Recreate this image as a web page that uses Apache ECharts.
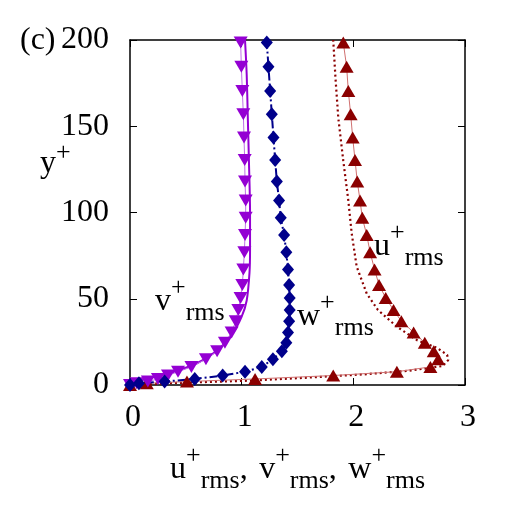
<!DOCTYPE html>
<html>
<head>
<meta charset="utf-8">
<script src="https://cdn.jsdelivr.net/npm/echarts@6/dist/echarts.min.js"></script>
<style>
  html, body { margin: 0; padding: 0; background: #fff; }
  #chart { width: 525px; height: 525px; }
</style>
</head>
<body>
<div id="chart"></div>
<script>
// marker positions (y+) shared by the three LES profiles
const yPlus = [0, 1, 2, 3.5, 5.5, 7.7, 10.5, 15, 19.5, 24.5, 30.5, 37, 43.5, 50.5, 58, 67, 77, 87, 97, 107, 118, 130.5, 143.5, 157, 170.5, 184.5, 198.5];
const uRms = [0, 0.15, 0.51, 1.12, 1.82, 2.39, 2.69, 2.76, 2.72, 2.64, 2.54, 2.43, 2.36, 2.29, 2.23, 2.19, 2.15, 2.12, 2.08, 2.06, 2.035, 2.015, 1.994, 1.976, 1.955, 1.94, 1.91];
const vRms = [0, 0.06, 0.16, 0.25, 0.34, 0.43, 0.55, 0.68, 0.78, 0.85, 0.91, 0.947, 0.97, 0.99, 1.006, 1.015, 1.024, 1.03, 1.036, 1.036, 1.03, 1.027, 1.021, 1.015, 1.006, 0.997, 0.991];
const wRms = [0, 0.08, 0.31, 0.58, 0.83, 1.03, 1.18, 1.28, 1.36, 1.40, 1.415, 1.425, 1.43, 1.43, 1.425, 1.415, 1.40, 1.38, 1.35, 1.335, 1.315, 1.30, 1.285, 1.27, 1.255, 1.24, 1.225];

// reference curves
const uRefY = [0, 1, 2.5, 4.3, 6.2, 8.3, 11, 14.5, 17.5, 21.5, 26, 33.8, 43.5, 53, 68.6, 88, 107, 130, 155, 178, 200];
const uRefX = [0, 0.33, 1.07, 1.6, 2.1, 2.5, 2.8, 2.85, 2.84, 2.75, 2.57, 2.39, 2.22, 2.12, 2.03, 1.985, 1.955, 1.91, 1.865, 1.84, 1.82];
const vRefY = [0, 3, 7, 12.6, 20, 30, 39.6, 49, 65, 78, 100, 130, 155, 180, 200];
const vRefX = [0, 0.12, 0.36, 0.6, 0.78, 0.92, 1.0, 1.045, 1.07, 1.075, 1.075, 1.065, 1.055, 1.045, 1.03];

const xTicks = [0, 1, 2, 3];
const yTicks = [0, 50, 100, 150, 200];

const FONT = "'Liberation Serif', 'Times New Roman', serif";
const RED = "#8b0000", PURPLE = "#9400d3", BLUE = "#00008b";

function pairs(xs, ys) {
  return xs.map((x, i) => [x, ys[i]]);
}

// text with super/subscripts, laid out piece by piece
// part = [text, kind (0 normal, 1 sup, -1 sub), extra gap before]
const ctx = document.createElement("canvas").getContext("2d");
function label(x, base, parts, supUp) {
  let cx = x;
  const out = [];
  parts.forEach(([t, k, gap]) => {
    const fs = k ? 26 : 32;
    const b = base + (k === 1 ? -(supUp || 15) : k === -1 ? 10 : 0);
    cx += gap || 0;
    ctx.font = fs + "px " + FONT;
    out.push({
      type: "text",
      x: cx,
      y: b - 0.3375 * fs,
      style: { text: t, fontSize: fs, fontFamily: FONT, fill: "#000", align: "left", verticalAlign: "middle" },
    });
    cx += ctx.measureText(t).width;
  });
  return out;
}

const chart = echarts.init(document.getElementById("chart"));

const axisCommon = {
  type: "value",
  axisLine: { show: true, onZero: false, lineStyle: { color: "#000", width: 1.5 } },
  axisTick: { show: true, inside: true, length: 7, lineStyle: { color: "#000", width: 1 } },
  splitLine: { show: false },
};

chart.setOption({
  animation: false,
  backgroundColor: "#fff",
  grid: { left: 130, right: 60, top: 40, bottom: 140 },
  xAxis: [
    Object.assign({}, axisCommon, {
      min: xTicks[0], max: xTicks[xTicks.length - 1], interval: 1, position: "bottom",
      axisLabel: { fontSize: 32, fontFamily: FONT, color: "#000", margin: 17, padding: [0, 0, 0, 6] },
    }),
    Object.assign({}, axisCommon, {
      min: xTicks[0], max: xTicks[xTicks.length - 1], interval: 1, position: "top",
      axisLabel: { show: false },
    }),
  ],
  yAxis: [
    Object.assign({}, axisCommon, {
      min: yTicks[0], max: yTicks[yTicks.length - 1], interval: 50, position: "left",
      axisLabel: { fontSize: 32, fontFamily: FONT, color: "#000", margin: 21 },
    }),
    Object.assign({}, axisCommon, {
      min: yTicks[0], max: yTicks[yTicks.length - 1], interval: 50, position: "right",
      axisLabel: { show: false },
    }),
  ],
  series: [
    {
      type: "line", data: pairs(uRefX, uRefY), showSymbol: false, clip: false,
      lineStyle: { color: RED, width: 2.2, type: [2, 3] },
    },
    {
      type: "line", data: pairs(uRms, yPlus), clip: false,
      symbol: "triangle", symbolSize: [14, 12],
      itemStyle: { color: RED },
      lineStyle: { color: "#d07070", width: 1 },
    },
    {
      type: "line", data: pairs(vRefX, vRefY), showSymbol: false, clip: false, smooth: 0.3,
      lineStyle: { color: PURPLE, width: 2 },
    },
    {
      type: "line", data: pairs(vRms, yPlus), clip: false,
      symbol: "triangle", symbolRotate: 180, symbolSize: [14, 12],
      itemStyle: { color: PURPLE },
      lineStyle: { color: "#c070e8", width: 1 },
    },
    {
      type: "line", data: pairs(wRms, yPlus), clip: false,
      symbol: "diamond", symbolSize: [12, 14],
      itemStyle: { color: BLUE },
      lineStyle: { color: BLUE, width: 2, type: [8, 3, 2, 3] },
    },
  ],
  graphic: [].concat(
    label(20, 51, [["(c)", 0]]),
    label(40, 174, [["y", 0], ["+", 1]], 12),
    label(155, 312, [["v", 0], ["+", 1], ["rms", -1]]),
    label(297, 327, [["w", 0], ["+", 1], ["rms", -1]]),
    label(374, 257, [["u", 0], ["+", 1], ["rms", -1]]),
    label(170, 480, [["u", 0], ["+", 1], ["rms", -1], [",", 0], [" v", 0, 3.5], ["+", 1], ["rms", -1],
                     [",", 0], [" w", 0, 3.5], ["+", 1], ["rms", -1]])
  ),
});
</script>
</body>
</html>
